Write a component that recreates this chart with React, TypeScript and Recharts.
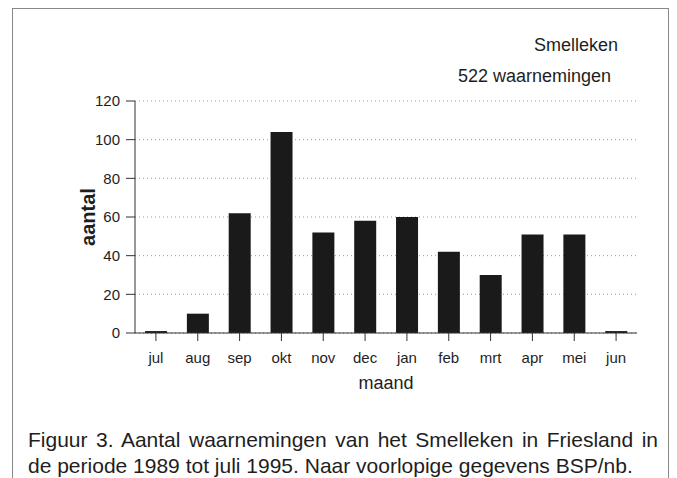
import React from 'react';
import { BarChart, Bar, XAxis, YAxis, CartesianGrid } from 'recharts';

const months = ['jul', 'aug', 'sep', 'okt', 'nov', 'dec', 'jan', 'feb', 'mrt', 'apr', 'mei', 'jun'];
const counts = [1, 10, 62, 104, 52, 58, 60, 42, 30, 51, 51, 1];
const yTicks = [0, 20, 40, 60, 80, 100, 120];

const data = months.map((m, i) => ({ maand: m, aantal: counts[i] }));

const font = '"Liberation Sans", Arial, sans-serif';
const narrow = '"Liberation Sans Narrow", "Arial Narrow", "Liberation Sans", sans-serif';
const ink = '#1e1e1e';

export default function App() {
  return (
    <div style={{ position: 'absolute', left: 0, top: 0, width: 677, height: 478, background: '#fff', fontFamily: font, color: ink, overflow: 'hidden' }}>
      <div style={{ position: 'absolute', left: 12, top: 8, width: 657, height: 480, border: '1px solid #888', boxSizing: 'border-box' }} />
      <BarChart
        width={677}
        height={478}
        data={data}
        margin={{ top: 101, right: 40, bottom: 115, left: 75 }}
        barCategoryGap="24%"
      >
        <CartesianGrid vertical={false} stroke="#999" strokeDasharray="1 3" />
        <XAxis
          dataKey="maand"
          height={30}
          tickLine={{ stroke: '#333' }}
          axisLine={{ stroke: '#333' }}
          tickSize={8}
          tickMargin={11}
          tick={{ fill: ink, fontSize: 15, fontFamily: narrow }}
        />
        <YAxis
          width={60}
          domain={[0, 120]}
          ticks={yTicks}
          interval={0}
          tickLine={{ stroke: '#333' }}
          axisLine={{ stroke: '#333' }}
          tickSize={9}
          tickMargin={6}
          tick={{ fill: ink, fontSize: 15, fontFamily: font }}
        />
        <Bar dataKey="aantal" fill="#1a1a1a" isAnimationActive={false} />
      </BarChart>
      <div style={{ position: 'absolute', right: 59, top: 35, fontSize: 18 }}>Smelleken</div>
      <div style={{ position: 'absolute', right: 66, top: 66, fontSize: 18 }}>522 waarnemingen</div>
      <div style={{ position: 'absolute', left: 88, top: 217, transform: 'translate(-50%,-50%) rotate(-90deg)', fontSize: 20, fontWeight: 'bold', whiteSpace: 'nowrap' }}>aantal</div>
      <div style={{ position: 'absolute', left: 386, top: 383, transform: 'translate(-50%,-50%)', fontSize: 18, whiteSpace: 'nowrap' }}>maand</div>
      <div style={{ position: 'absolute', left: 28, top: 427, width: 630, fontSize: 21, lineHeight: '26px', fontFamily: narrow }}>
        <div style={{ textAlign: 'justify', textAlignLast: 'justify' }}>Figuur 3. Aantal waarnemingen van het Smelleken in Friesland in</div>
        <div style={{ whiteSpace: 'nowrap' }}>de periode 1989 tot juli 1995. Naar voorlopige gegevens BSP/nb.</div>
      </div>
    </div>
  );
}
